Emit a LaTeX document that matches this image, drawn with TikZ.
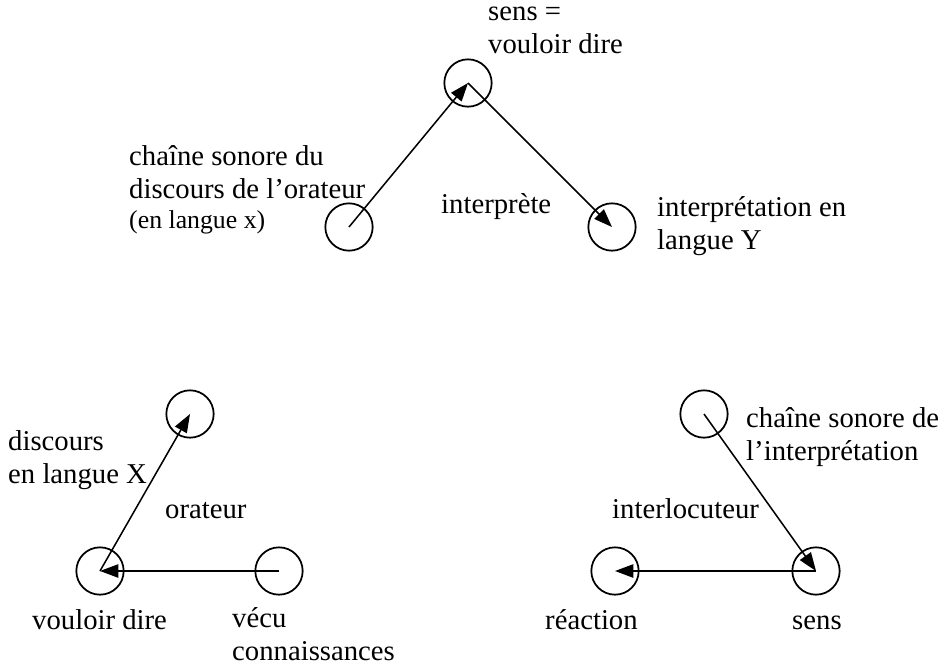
\documentclass[tikz,border=0pt]{standalone}
\usepackage{fontspec}
\setmainfont{Liberation Serif}
\usetikzlibrary{arrows.meta,positioning}

\begin{document}
\begin{tikzpicture}[
    x=0.03cm, y=-0.03cm,
    pole/.style={draw, circle, line width=1.5pt, minimum size=1.42cm, inner sep=0pt},
    arrow/.style={-{Triangle[length=0.55cm, width=0.4cm]}, line width=1.3pt},
    lbl/.style={anchor=base west, inner sep=0pt, align=left, font=\fontsize{24.5}{27.5}\selectfont},
    small/.style={lbl, font=\fontsize{22}{25}\selectfont}
]
\useasboundingbox (0,0) rectangle (950,668);

% schema du haut
\node[pole] (src) at (349,227) {};
\node[pole] (sens) at (468,83) {};
\node[pole] (cible) at (612,227) {};

\draw[arrow] (src.center) -- (sens.center);
\draw[arrow] (sens.center) -- (cible.center);

\node[lbl] (lsens) at (488,53) {sens =\\vouloir dire};
\node[lbl] (lsrc) at (129,198) {chaîne sonore du\\discours de l’orateur};
\node[small] (lx) at (129,228) {(en langue x)};
\node[lbl] (linterp) at (441,213) {interprète};
\node[lbl] (lcible) at (657,249) {interprétation en\\langue Y};

% orateur
\node[pole] (disc) at (190,414) {};
\node[pole] (vd) at (100,571) {};
\node[pole] (vecu) at (279,571) {};

\draw[arrow] (vecu.center) -- (vd.center);
\draw[arrow] (vd.center) -- (disc.center);

\node[lbl] (ldisc) at (8,483) {discours\\en langue X};
\node[lbl] (lorat) at (165,518) {orateur};
\node[lbl] (lvd) at (32,629) {vouloir dire};
\node[lbl] (lvecu) at (232,660) {vécu\\connaissances};

% interlocuteur
\node[pole] (chaine) at (704,414) {};
\node[pole] (sens2) at (816,571) {};
\node[pole] (reac) at (615,571) {};

\draw[arrow] (chaine.center) -- (sens2.center);
\draw[arrow] (sens2.center) -- (reac.center);

\node[lbl] (lchaine) at (746,460) {chaîne sonore de\\l’interprétation};
\node[lbl] (linter) at (612,518) {interlocuteur};
\node[lbl] (lreac) at (545,629) {réaction};
\node[lbl] (lsens2) at (792,629) {sens};

\end{tikzpicture}
\end{document}
